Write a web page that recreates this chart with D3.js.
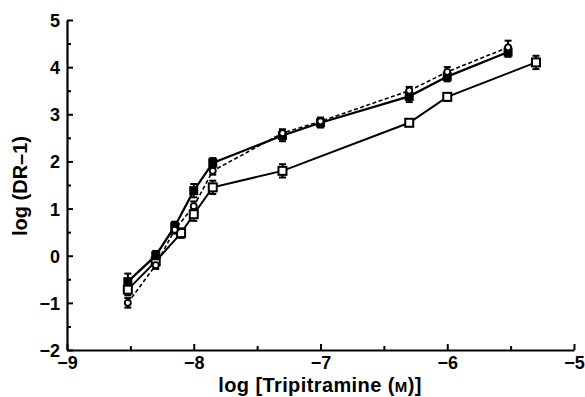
<!DOCTYPE html>
<html>
<head>
<meta charset="utf-8">
<script src="https://cdn.jsdelivr.net/npm/d3@7"></script>
<style>
  body { margin: 0; background: #fff; }
  svg { display: block; font-family: "Liberation Sans", Arial, sans-serif; font-weight: bold; }
</style>
</head>
<body>
<script>
// chart values
var xFilled = [-8.52, -8.30, -8.15, -8.0, -7.85, -7.3, -7.0, -6.3, -6.0, -5.52]
var yFilled = [-0.55, 0.0, 0.62, 1.38, 1.97, 2.55, 2.82, 3.38, 3.8, 4.32]
var eFilled = [0.15, 0.08, 0.08, 0.12, 0.08, 0.1, 0.08, 0.1, 0.08, 0.08]

var xCircle = [-8.52, -8.30, -8.15, -8.0, -7.85, -7.3, -7.0, -6.3, -6.0, -5.52]
var yCircle = [-1.0, -0.2, 0.55, 1.05, 1.8, 2.6, 2.85, 3.5, 3.9, 4.42]
var eCircle = [0.08, 0.06, 0.06, 0.08, 0.06, 0.06, 0.06, 0.06, 0.08, 0.12]

var xOpen = [-8.52, -8.30, -8.10, -8.0, -7.85, -7.3, -6.3, -6.0, -5.3]
var yOpen = [-0.72, -0.12, 0.48, 0.88, 1.45, 1.8, 2.82, 3.37, 4.1]
var eOpen = [0.1, 0.08, 0.08, 0.12, 0.12, 0.12, 0.05, 0.06, 0.12]

var xTicks = [-9, -8, -7, -6, -5]
var xMinor = [-8.5, -7.5, -6.5, -5.5]
var yTicks = [-2, -1, 0, 1, 2, 3, 4, 5]
var yMinor = [-1.5, -0.5, 0.5, 1.5, 2.5, 3.5, 4.5]

var width = 585
var height = 397

var svg = d3.select("body")
  .append("svg")
    .attr("width", width)
    .attr("height", height)

var x = d3.scaleLinear().domain([-9, -5]).range([67, 574])
var y = d3.scaleLinear().domain([-2, 5]).range([350, 20])

function fmt(d) { return d < 0 ? "\u2212" + Math.abs(d) : d }

// minor ticks first, then the main axes on top
svg.append("g")
    .attr("transform", "translate(0,350)")
    .call(d3.axisBottom(x).tickValues(xMinor).tickSize(-4).tickFormat(""))
    .call(g => g.select(".domain").remove())
svg.append("g")
    .attr("transform", "translate(67,0)")
    .call(d3.axisLeft(y).tickValues(yMinor).tickSize(-4).tickFormat(""))
    .call(g => g.select(".domain").remove())

var xAxis = svg.append("g")
    .attr("transform", "translate(0,350)")
    .call(d3.axisBottom(x).tickValues(xTicks).tickSize(-6).tickSizeOuter(0).tickFormat(fmt).tickPadding(6))
var yAxis = svg.append("g")
    .attr("transform", "translate(67,0)")
    .call(d3.axisLeft(y).tickValues(yTicks).tickSize(-6).tickSizeOuter(0).tickFormat(fmt).tickPadding(7))

svg.selectAll(".tick line").attr("stroke", "#000").attr("stroke-width", 2)
svg.selectAll(".domain").attr("stroke", "#000").attr("stroke-width", 2.2)
svg.selectAll(".tick text")
    .style("font-size", "18px")
    .style("font-weight", "bold")
    .style("font-family", "Liberation Sans, Arial, sans-serif")
    .attr("fill", "#000")
yAxis.selectAll(".tick text").attr("dy", "0.36em")

// axis titles
svg.append("text")
    .attr("x", 320)
    .attr("y", 392)
    .attr("text-anchor", "middle")
    .style("font-size", "20px")
    .style("letter-spacing", "0.4px")
    .html("log [Tripitramine (<tspan style='font-size:15px'>M</tspan>)]")

svg.append("text")
    .attr("transform", "translate(27,186) rotate(-90)")
    .attr("text-anchor", "middle")
    .style("font-size", "20px")
    .text("log (DR\u20131)")

var line = d3.line().x(d => x(d[0])).y(d => y(d[1]))

function series(xs, ys, es) {
  return xs.map(function(v, i) { return [v, ys[i], es[i]] })
}

var dFilled = series(xFilled, yFilled, eFilled)
var dCircle = series(xCircle, yCircle, eCircle)
var dOpen = series(xOpen, yOpen, eOpen)

// connecting lines
svg.append("path").datum(dOpen)
    .attr("d", line).attr("fill", "none").attr("stroke", "#000").attr("stroke-width", 2)
svg.append("path").datum(dCircle)
    .attr("d", line).attr("fill", "none").attr("stroke", "#000").attr("stroke-width", 1.6)
    .attr("stroke-dasharray", "4,2.5")
svg.append("path").datum(dFilled)
    .attr("d", line).attr("fill", "none").attr("stroke", "#000").attr("stroke-width", 2.3)

// error bars
function errorBars(data) {
  var g = svg.append("g").attr("stroke", "#000").attr("stroke-width", 2)
  g.selectAll("line.v").data(data).enter().append("line")
      .attr("x1", d => x(d[0])).attr("x2", d => x(d[0]))
      .attr("y1", d => y(d[1] + d[2]) - 1).attr("y2", d => y(d[1] - d[2]) + 1)
  g.selectAll("line.t").data(data).enter().append("line")
      .attr("x1", d => x(d[0]) - 3.5).attr("x2", d => x(d[0]) + 3.5)
      .attr("y1", d => y(d[1] + d[2]) - 1).attr("y2", d => y(d[1] + d[2]) - 1)
  g.selectAll("line.b").data(data).enter().append("line")
      .attr("x1", d => x(d[0]) - 3.5).attr("x2", d => x(d[0]) + 3.5)
      .attr("y1", d => y(d[1] - d[2]) + 1).attr("y2", d => y(d[1] - d[2]) + 1)
}
errorBars(dOpen)
errorBars(dCircle)
errorBars(dFilled)

// markers
svg.append("g").selectAll("rect").data(dOpen).enter().append("rect")
    .attr("x", d => x(d[0]) - 4).attr("y", d => y(d[1]) - 4)
    .attr("width", 8).attr("height", 8)
    .attr("fill", "#fff").attr("stroke", "#000").attr("stroke-width", 2)

svg.append("g").selectAll("rect").data(dFilled).enter().append("rect")
    .attr("x", d => x(d[0]) - 4.5).attr("y", d => y(d[1]) - 4.5)
    .attr("width", 9).attr("height", 9)
    .attr("fill", "#000")

svg.append("g").selectAll("circle").data(dCircle).enter().append("circle")
    .attr("cx", d => x(d[0])).attr("cy", d => y(d[1]))
    .attr("r", 3)
    .attr("fill", "#fff").attr("stroke", "#000").attr("stroke-width", 1.8)
</script>
</body>
</html>
